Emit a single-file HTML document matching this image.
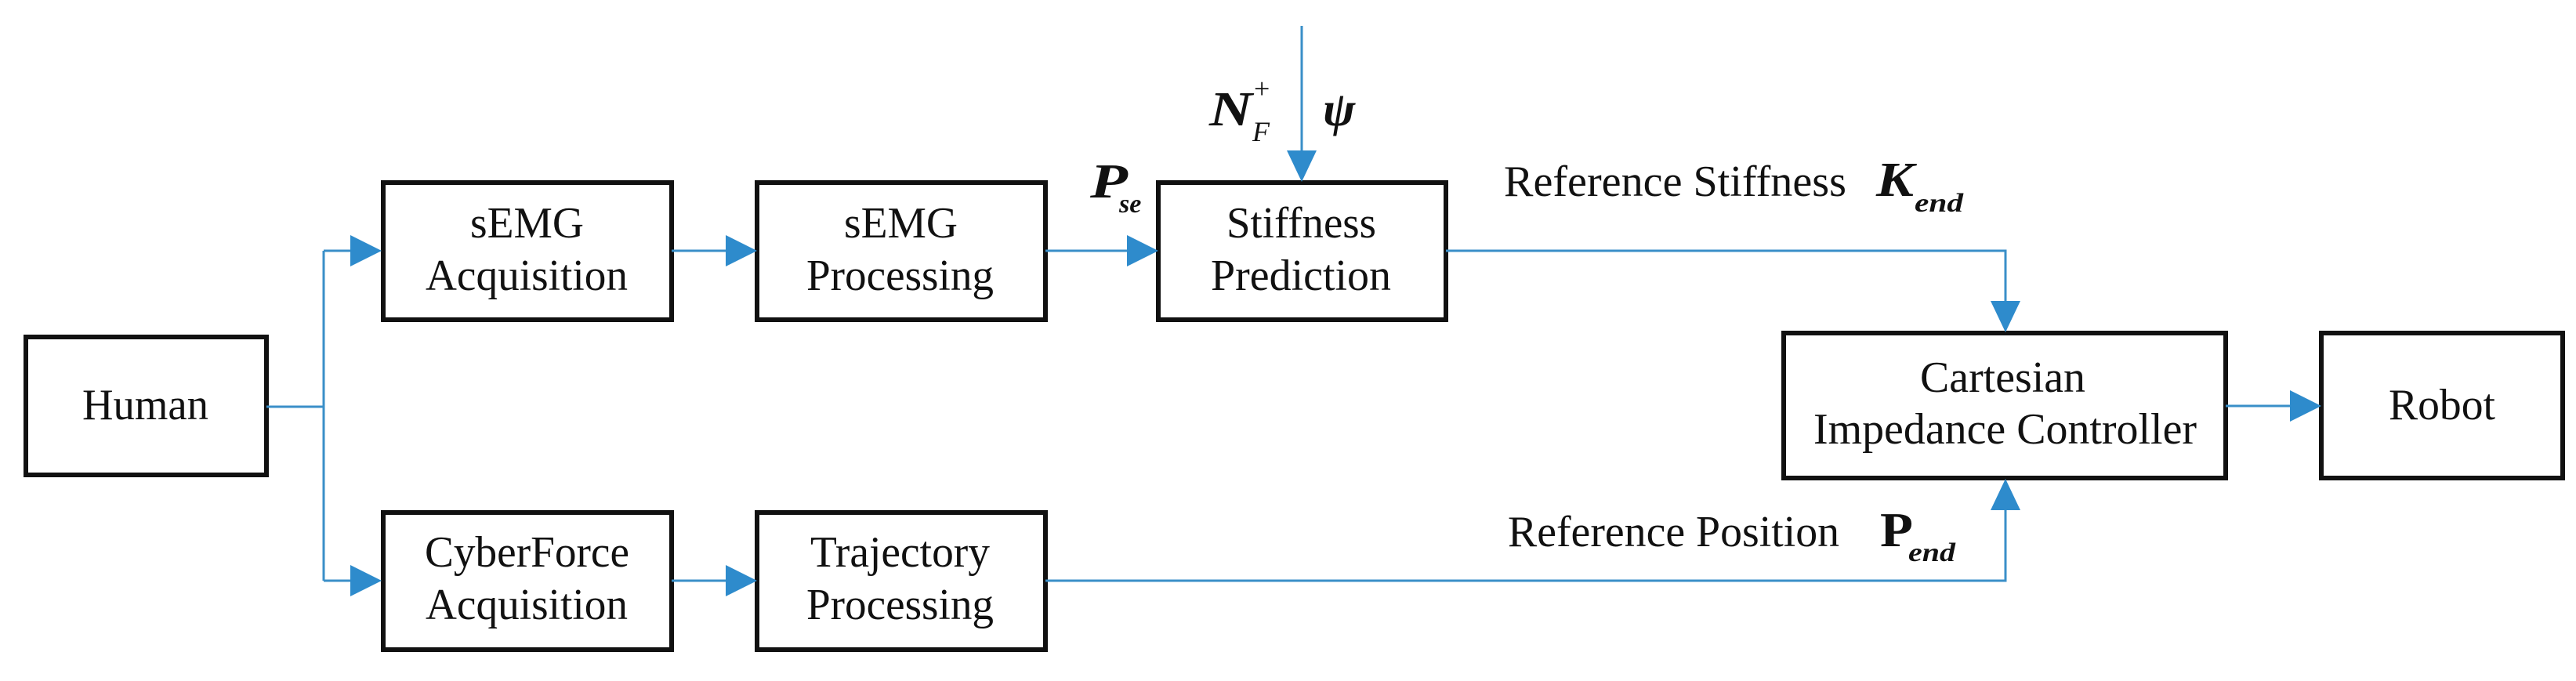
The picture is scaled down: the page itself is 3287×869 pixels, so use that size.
<!DOCTYPE html>
<html><head><meta charset="utf-8"><style>
html,body{margin:0;padding:0;background:#fff;}
svg{display:block;}
text{font-family:"Liberation Serif","Times New Roman",serif;fill:#111;}
</style></head><body>
<svg width="3287" height="869" viewBox="0 0 3287 869" xmlns="http://www.w3.org/2000/svg" font-family="Liberation Serif, serif">
<g fill="none" stroke="#111" stroke-width="6">
<rect x="33" y="430" width="307" height="176"/>
<rect x="489" y="233" width="368" height="175"/>
<rect x="966" y="233" width="368" height="175"/>
<rect x="1478" y="233" width="367" height="175"/>
<rect x="489" y="654" width="368" height="175"/>
<rect x="966" y="654" width="368" height="175"/>
<rect x="2276" y="425" width="564" height="185"/>
<rect x="2962" y="425" width="308" height="185"/>
</g>
<g fill="none" stroke="#3a8fc8" stroke-width="3">
<polyline points="340,519 413,519"/>
<polyline points="413,320 413,741"/>
<polyline points="413,320 450,320"/>
<polyline points="413,741 450,741"/>
<polyline points="857,320 928,320"/>
<polyline points="857,741 928,741"/>
<polyline points="1334,320 1440,320"/>
<polyline points="1661,33 1661,195"/>
<polyline points="1845,320 2559,320 2559,388"/>
<polyline points="1334,741 2559,741 2559,648"/>
<polyline points="2840,518 2925,518"/>
</g>
<g fill="#2e8bcc">
<polygon points="447,300 487,320 447,340"/>
<polygon points="447,721 487,741 447,761"/>
<polygon points="926,300 966,320 926,340"/>
<polygon points="926,721 966,741 926,761"/>
<polygon points="1438,300 1478,320 1438,340"/>
<polygon points="1642,192 1680,192 1661,232"/>
<polygon points="2540,384 2578,384 2559,424"/>
<polygon points="2540,651 2578,651 2559,611"/>
<polygon points="2922,498 2962,518 2922,538"/>
</g>
<g font-size="56">
<text x="105" y="535" textLength="161" lengthAdjust="spacingAndGlyphs">Human</text>
<text x="600" y="303" textLength="145" lengthAdjust="spacingAndGlyphs">sEMG</text>
<text x="543" y="370" textLength="258" lengthAdjust="spacingAndGlyphs">Acquisition</text>
<text x="1077" y="303" textLength="145" lengthAdjust="spacingAndGlyphs">sEMG</text>
<text x="1029" y="370" textLength="239" lengthAdjust="spacingAndGlyphs">Processing</text>
<text x="1565" y="303" textLength="191" lengthAdjust="spacingAndGlyphs">Stiffness</text>
<text x="1545" y="370" textLength="230" lengthAdjust="spacingAndGlyphs">Prediction</text>
<text x="542" y="723" textLength="261" lengthAdjust="spacingAndGlyphs">CyberForce</text>
<text x="543" y="790" textLength="258" lengthAdjust="spacingAndGlyphs">Acquisition</text>
<text x="1034" y="723" textLength="229" lengthAdjust="spacingAndGlyphs">Trajectory</text>
<text x="1029" y="790" textLength="239" lengthAdjust="spacingAndGlyphs">Processing</text>
<text x="2450" y="500" textLength="211" lengthAdjust="spacingAndGlyphs">Cartesian</text>
<text x="2314" y="566" textLength="489" lengthAdjust="spacingAndGlyphs">Impedance Controller</text>
<text x="3048" y="535" textLength="136" lengthAdjust="spacingAndGlyphs">Robot</text>
<text x="1919" y="250" textLength="437" lengthAdjust="spacingAndGlyphs">Reference Stiffness</text>
<text x="1924" y="697" textLength="423" lengthAdjust="spacingAndGlyphs">Reference Position</text>
</g>
<g font-style="italic" font-weight="bold">
<text x="1543" y="160" font-size="62" textLength="55" lengthAdjust="spacingAndGlyphs">N</text>
<text x="1600" y="125" font-size="36" font-weight="normal" font-style="normal">+</text>
<text x="1598" y="180" font-size="36" font-weight="normal">F</text>
<text x="1688" y="160" font-size="62">ψ</text>
<text x="1391" y="252" font-size="62" textLength="48" lengthAdjust="spacingAndGlyphs">P</text>
<text x="1428" y="271" font-size="34">se</text>
<text x="2394" y="250" font-size="62" textLength="48" lengthAdjust="spacingAndGlyphs">K</text>
<text x="2443" y="270" font-size="34" textLength="62" lengthAdjust="spacingAndGlyphs">end</text>
<text x="2399" y="697" font-size="62" font-style="normal" textLength="42" lengthAdjust="spacingAndGlyphs">P</text>
<text x="2435" y="716" font-size="34" textLength="60" lengthAdjust="spacingAndGlyphs">end</text>
</g>
</svg>
</body></html>
